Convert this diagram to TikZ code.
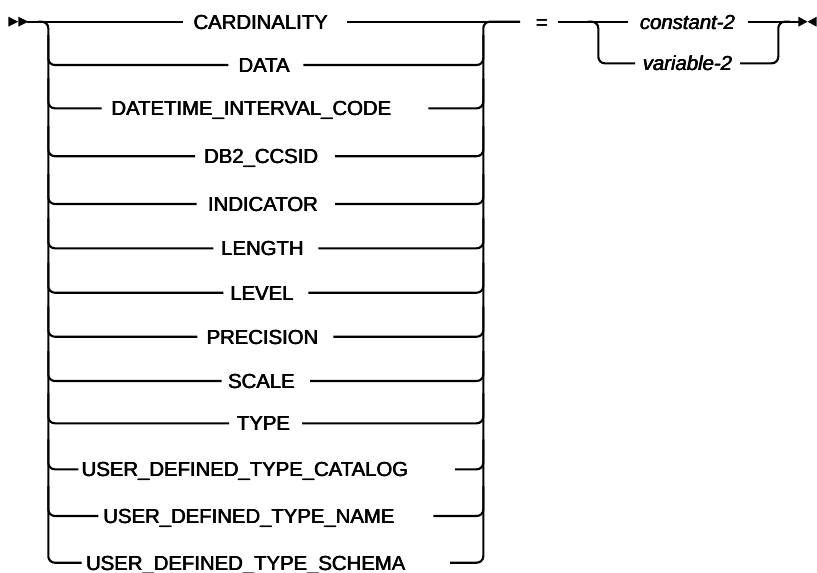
\documentclass[tikz,border=0pt]{standalone}
\usepackage{fontspec}
\newfontfamily\rrf{Liberation Sans}
\newcommand{\heavytxt}[1]{\rlap{#1}\kern0.35pt\rlap{#1}\kern0.35pt#1}
\begin{document}
\begin{tikzpicture}[x=1pt,y=-1pt,
  rail/.style={line width=2.1pt, rounded corners=6.5pt},
  kw/.style={font=\rrf\fontsize{20.3}{24}\selectfont, inner sep=0pt, anchor=base},
  var/.style={font=\rrf\itshape\fontsize{20.3}{24}\selectfont, inner sep=0pt, anchor=base},
  tip/.style={fill=black, draw=none}]
\useasboundingbox (0,0) rectangle (817,573);

% start marker
\fill[tip] (8.3,16.7) -- (18.3,21.7) -- (8.3,26.7) -- cycle;
\fill[tip] (18.3,16.7) -- (28.3,21.7) -- (18.3,26.7) -- cycle;
\coordinate (start) at (27,21.7);

% keyword rows: index / y / left gap end / right gap start / text centre / text
\foreach \i/\y/\L/\R/\cx/\t in {
  0/21.7/183.3/346.7/260.8/CARDINALITY,
  1/65/228.3/303.3/264.2/DATA,
  2/108.3/101.7/428.3/251.4/DATETIME\_INTERVAL\_CODE,
  3/156.2/195/335/261.2/DB2\_CCSID,
  4/204/196.7/335/263/INDICATOR,
  5/248.3/213.3/318.3/262.5/LENGTH,
  6/292.7/223.3/308.3/262/LEVEL,
  7/336.7/197.3/333.3/262.5/PRECISION,
  8/381/221.7/310/261.5/SCALE,
  9/423.3/229/302/263.5/TYPE,
  10/469.3/78.3/455/245/USER\_DEFINED\_TYPE\_CATALOG,
  11/516/98.3/433.3/249/USER\_DEFINED\_TYPE\_NAME,
  12/562.7/81.7/450/245.8/USER\_DEFINED\_TYPE\_SCHEMA}{
  \node[kw] (k\i) at (\cx,\y+7.3) {\heavytxt{\t}};
  \coordinate (l\i) at (\L,\y);
  \coordinate (r\i) at (\R,\y);
}

% equals and choice of value
\coordinate (eqL) at (520,21.7);
\node[kw] (eq) at (542,21.7+7.3) {\heavytxt{=}};
\coordinate (eqR) at (558,21.7);
\node[var] (const) at (687.5,21.7+7.3) {\heavytxt{constant-2}};
\node[var] (varb) at (687.5,63.3+7.3) {\heavytxt{variable-2}};
\coordinate (lc) at (628.3,21.7);
\coordinate (rc) at (748.3,21.7);
\coordinate (lv) at (635,63.3);
\coordinate (rv) at (740,63.3);
\coordinate (stop) at (799,21.7);

% main line and left branching
\draw[rail] (start) -- (l0);
\draw[rail] (38,21.7) -- (48.3,21.7) -- (48.3,562.7) -- (l12);
\foreach \i/\y in {1/65,2/108.3,3/156.2,4/204,5/248.3,6/292.7,7/336.7,8/381,9/423.3,10/469.3,11/516}{
  \draw[rail] (48.3,\y-30) |- (l\i);
  \draw[rail] (r\i) -| (483.3,\y-30);
}
% right joining
\draw[rail] (r0) -- (eqL);
\draw[rail] (r12) -| (483.3,21.7) -- (eqL);

% second choice
\draw[rail] (eqR) -- (lc);
\draw[rail] (588,21.7) -| (598.3,63.3) -- (lv);
\draw[rail] (rc) -- (stop);
\draw[rail] (rv) -| (778.3,21.7) -- (790,21.7);

% end marker
\fill[tip] (798.3,16.7) -- (807.5,21.7) -- (798.3,26.7) -- cycle;
\fill[tip] (816.7,16.7) -- (807.5,21.7) -- (816.7,26.7) -- cycle;
\end{tikzpicture}
\end{document}
